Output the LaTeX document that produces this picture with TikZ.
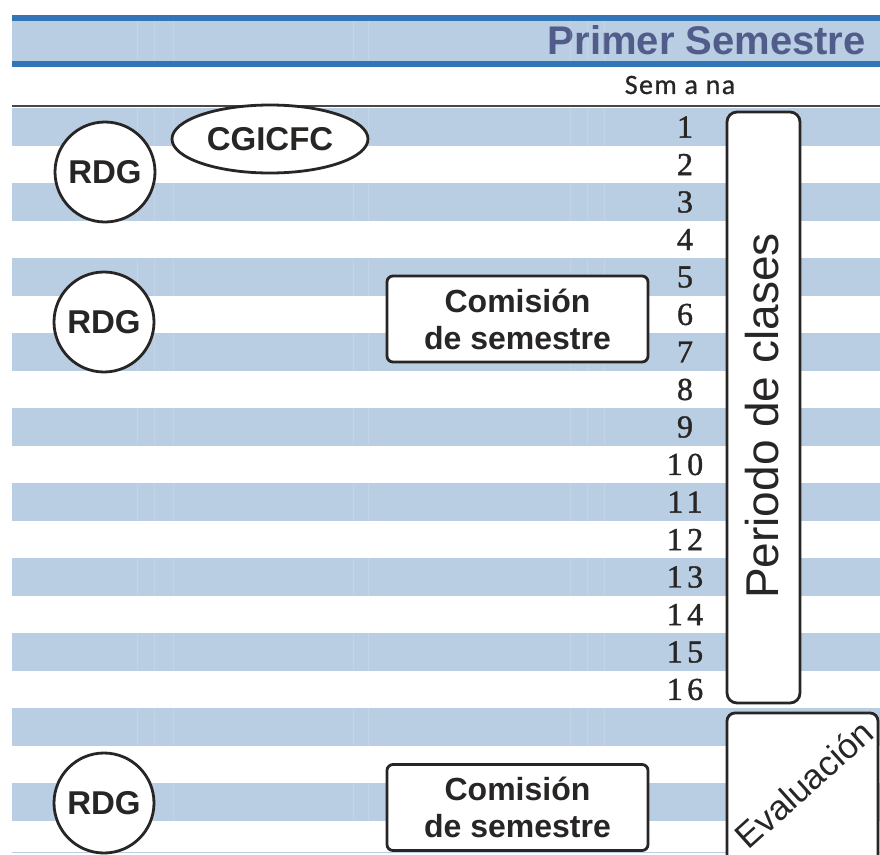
\documentclass[tikz,border=0pt]{standalone}
\usepackage{fontspec}
\setmainfont{Liberation Sans}
\newfontfamily\numfont[LetterSpace=14,FakeBold=1.2]{Liberation Serif}
\newfontfamily\semfont[LetterSpace=5,FakeBold=0.8]{Carlito}
\usepackage{tikz}
\usetikzlibrary{positioning,shapes.geometric}
\definecolor{bandblue}{RGB}{185,205,227}
\definecolor{lineblue}{RGB}{50,118,183}
\definecolor{headtxt}{RGB}{82,92,138}
\definecolor{ink}{RGB}{40,37,37}

\begin{document}
\begin{tikzpicture}[x=1pt,y=-1pt,
  rdg/.style={draw=ink,circle,line width=2.8pt,fill=white,minimum size=100pt,inner sep=0pt,text=ink,font=\bfseries\fontsize{33}{36}\selectfont},
  oval/.style={draw=ink,ellipse,line width=2.8pt,fill=white,minimum width=196pt,minimum height=68pt,inner sep=0pt,text=ink,font=\bfseries\fontsize{33}{36}\selectfont},
  cbox/.style={draw=ink,rounded corners=6pt,line width=2.8pt,fill=white,minimum width=261pt,minimum height=86pt,align=center,text=ink,font=\bfseries\fontsize{32}{37}\selectfont},
  wk/.style={inner sep=0pt,text=ink,font=\numfont\fontsize{32}{34}\selectfont},
  every node/.style={align=center}
]
\clip (0,0) rectangle (880,854);
\fill[white] (0,0) rectangle (880,854);

% header band
\fill[bandblue] (12,18) rectangle (880,64);
\draw[lineblue,line width=6pt] (12,18) -- (880,18);
\draw[lineblue,line width=6pt] (12,63.5) -- (880,63.5);
\node[anchor=east,inner sep=0pt,text=headtxt,font=\bfseries\fontsize{40}{44}\selectfont] (title) at (866,40.5) {Primer Semestre};
\node[inner sep=0pt,text=ink,font=\semfont\fontsize{28}{30}\selectfont] (sem) at (680,85) {Sem a na};
\draw[ink!85,line width=2pt] (12,106) -- (880,106);

% stripes
\foreach \k in {0,...,9}
  \fill[bandblue] (12,{108+75*\k}) rectangle (880,{145.5+75*\k});
\foreach \x in {137,154,173,353,368,570,587,604}{
  \draw[white,opacity=.15,line width=.8pt] (\x,21) -- (\x,61);
  \draw[white,opacity=.15,line width=.8pt] (\x,108) -- (\x,854);
}
\draw[bandblue,line width=1pt] (12,852) -- (880,852);

% weeks
\foreach \n in {1,...,16}
  \node[wk] (w\n) at (685,{127+37.5*(\n-1)}) {\n};

\node[rdg] (rdg1) at (105,172) {RDG};
\node[rdg] (rdg2) at (104,322) {RDG};
\node[rdg] (rdg3) at (104,803) {RDG};
\node[oval] (cgi) at (270,139) {CGICFC};
\node[cbox] (com1) at (517.5,319) {Comisión\\de semestre};
\node[cbox] (com2) at (517.5,807.5) {Comisión\\de semestre};

\node[draw=ink,rounded corners=10pt,line width=2.8pt,fill=white,minimum width=73pt,minimum height=591pt,inner sep=0pt] (clases) at (763.5,407.5) {};
\node[rotate=90,inner sep=0pt,text=ink,font=\fontsize{46}{50}\selectfont] (clasestxt) at (762,416) {Periodo de clases};
\node[draw=ink,rounded corners=8pt,line width=2.8pt,fill=white,minimum width=151pt,minimum height=170pt,inner sep=0pt] (eval) at (802.5,798) {};
\node[rotate=42,inner sep=0pt,text=ink,font=\fontsize{35}{38}\selectfont] (evtxt) at (804,784) {Evaluación};
\end{tikzpicture}
\end{document}
